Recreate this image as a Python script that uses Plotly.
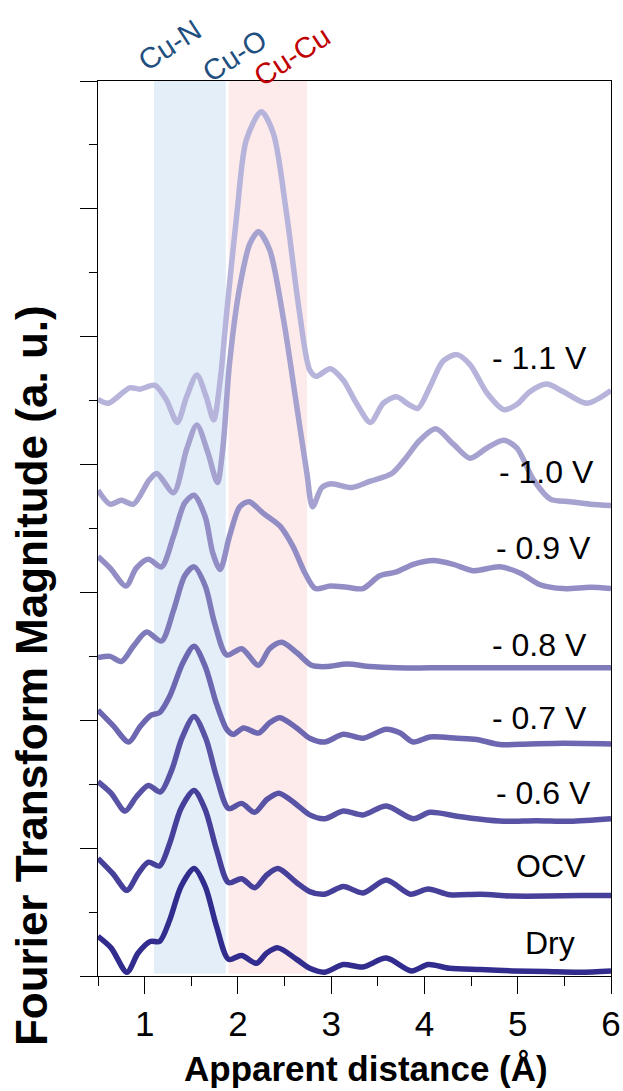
import plotly.graph_objects as go

# Apparent distance R (Å) and FT magnitude (offset, a.u.) for each condition
r_m11 = [0.50, 0.61, 0.84, 0.95, 1.11, 1.23, 1.35, 1.45, 1.56, 1.66, 1.74, 1.81, 1.88, 1.99, 2.09,
         2.25, 2.38, 2.52, 2.66, 2.77, 2.84, 2.99, 3.13, 3.27, 3.42, 3.56, 3.70, 3.83, 3.93, 4.06,
         4.20, 4.35, 4.49, 4.67, 4.85, 4.99, 5.13, 5.31, 5.49, 5.74, 6.00]
ft_m11 = [4.51, 4.48, 4.60, 4.59, 4.62, 4.51, 4.33, 4.53, 4.70, 4.53, 4.35, 4.66, 5.19, 5.97, 6.54,
          6.76, 6.59, 5.97, 5.19, 4.74, 4.69, 4.75, 4.66, 4.48, 4.33, 4.48, 4.53, 4.47, 4.44, 4.61,
          4.81, 4.86, 4.78, 4.56, 4.43, 4.47, 4.57, 4.63, 4.57, 4.48, 4.58]

r_m10 = [0.50, 0.63, 0.75, 0.88, 1.05, 1.13, 1.31, 1.45, 1.56, 1.68, 1.78, 1.84, 1.91, 2.02, 2.13,
         2.22, 2.34, 2.49, 2.63, 2.74, 2.80, 2.90, 3.00, 3.22, 3.42, 3.65, 3.81, 3.95, 4.12, 4.31,
         4.49, 4.67, 4.85, 4.99, 5.17, 5.35, 5.56, 5.78, 6.00]
ft_m10 = [3.80, 3.69, 3.72, 3.69, 3.88, 3.93, 3.78, 4.12, 4.31, 4.09, 3.86, 4.14, 4.79, 5.39, 5.73,
          5.82, 5.68, 5.13, 4.46, 3.93, 3.67, 3.82, 3.85, 3.82, 3.87, 3.93, 4.06, 4.19, 4.28, 4.16,
          4.05, 4.13, 4.19, 4.13, 3.88, 3.73, 3.71, 3.69, 3.68]

r_m09 = [0.50, 0.63, 0.80, 0.91, 1.04, 1.18, 1.31, 1.43, 1.53, 1.65, 1.73, 1.81, 1.91, 2.02, 2.12,
         2.27, 2.45, 2.59, 2.72, 2.83, 2.99, 3.17, 3.34, 3.52, 3.70, 3.88, 4.10, 4.31, 4.52, 4.81,
         5.03, 5.24, 5.49, 5.78, 6.00]
ft_m09 = [3.28, 3.19, 3.05, 3.19, 3.26, 3.20, 3.44, 3.70, 3.76, 3.59, 3.31, 3.18, 3.44, 3.67, 3.71,
          3.62, 3.52, 3.36, 3.15, 3.03, 3.05, 3.04, 3.03, 3.13, 3.16, 3.22, 3.25, 3.22, 3.17, 3.20,
          3.15, 3.06, 3.03, 3.04, 3.03]

r_m08 = [0.50, 0.63, 0.75, 0.88, 1.02, 1.18, 1.31, 1.43, 1.53, 1.65, 1.75, 1.88, 2.04, 2.22, 2.34,
         2.47, 2.63, 2.79, 2.95, 3.17, 3.42, 3.70, 4.06, 4.42, 4.77, 5.13, 5.49, 6.00]
ft_m08 = [2.49, 2.50, 2.46, 2.58, 2.69, 2.62, 2.86, 3.13, 3.20, 3.05, 2.76, 2.51, 2.56, 2.43, 2.56,
          2.61, 2.53, 2.43, 2.42, 2.44, 2.42, 2.41, 2.41, 2.41, 2.41, 2.41, 2.41, 2.41]

r_m07 = [0.50, 0.66, 0.83, 0.95, 1.07, 1.16, 1.27, 1.41, 1.53, 1.65, 1.77, 1.88, 1.95, 2.06, 2.22,
         2.34, 2.45, 2.63, 2.77, 2.93, 3.13, 3.34, 3.59, 3.74, 3.88, 4.06, 4.35, 4.56, 4.81, 5.13,
         5.49, 6.00]
ft_m07 = [2.08, 1.96, 1.83, 1.95, 2.04, 2.06, 2.19, 2.45, 2.58, 2.42, 2.13, 1.93, 1.89, 1.94, 1.90,
          1.98, 2.02, 1.94, 1.86, 1.83, 1.89, 1.86, 1.93, 1.90, 1.83, 1.87, 1.86, 1.85, 1.81, 1.815,
          1.82, 1.815]

r_m06 = [0.50, 0.64, 0.79, 0.91, 1.04, 1.17, 1.29, 1.40, 1.53, 1.66, 1.77, 1.90, 2.04, 2.18, 2.31,
         2.44, 2.63, 2.77, 2.93, 3.13, 3.34, 3.59, 3.88, 4.06, 4.35, 4.56, 4.85, 5.20, 5.56, 6.00]
ft_m06 = [1.52, 1.43, 1.29, 1.40, 1.49, 1.44, 1.61, 1.86, 2.03, 1.85, 1.56, 1.31, 1.35, 1.28, 1.38,
          1.43, 1.34, 1.26, 1.23, 1.29, 1.26, 1.33, 1.23, 1.28, 1.25, 1.23, 1.21, 1.215, 1.21, 1.23]

r_ocv = [0.50, 0.66, 0.81, 0.93, 1.04, 1.16, 1.27, 1.39, 1.53, 1.65, 1.77, 1.90, 2.04, 2.18, 2.31,
         2.43, 2.63, 2.77, 2.93, 3.13, 3.34, 3.59, 3.85, 4.04, 4.27, 4.60, 4.95, 5.31, 5.67, 6.00]
ft_ocv = [0.92, 0.80, 0.67, 0.80, 0.89, 0.86, 1.04, 1.31, 1.45, 1.30, 0.99, 0.73, 0.76, 0.69, 0.79,
          0.84, 0.73, 0.66, 0.64, 0.70, 0.65, 0.75, 0.64, 0.68, 0.635, 0.64, 0.625, 0.625, 0.63, 0.63]

r_dry = [0.50, 0.64, 0.81, 0.93, 1.06, 1.16, 1.27, 1.39, 1.53, 1.65, 1.77, 1.90, 2.04, 2.20, 2.31,
         2.43, 2.63, 2.77, 2.93, 3.13, 3.34, 3.59, 3.86, 4.04, 4.27, 4.60, 4.95, 5.31, 5.67, 6.00]
ft_dry = [0.31, 0.22, 0.03, 0.18, 0.27, 0.27, 0.44, 0.70, 0.84, 0.70, 0.39, 0.13, 0.16, 0.10, 0.18,
          0.22, 0.13, 0.06, 0.03, 0.09, 0.07, 0.14, 0.04, 0.09, 0.06, 0.05, 0.04, 0.035, 0.03, 0.04]

labels = ["- 1.1 V", "- 1.0 V", "- 0.9 V", "- 0.8 V", "- 0.7 V", "- 0.6 V", "OCV", "Dry"]
label_x = [5.23, 5.31, 5.28, 5.23, 5.23, 5.28, 5.36, 5.35]
label_y = [4.83, 3.94, 3.35, 2.59, 2.02, 1.43, 0.86, 0.26]

# Shaded scattering-path windows (Å)
shell_names = ["Cu-N", "Cu-O", "Cu-Cu"]
cuno_window = [1.10, 1.87]
cucu_window = [1.90, 2.74]

series_r = [r_m11, r_m10, r_m09, r_m08, r_m07, r_m06, r_ocv, r_dry]
series_ft = [ft_m11, ft_m10, ft_m09, ft_m08, ft_m07, ft_m06, ft_ocv, ft_dry]
colors = ["#b6b4da", "#a5a2d0", "#928ec5", "#7f7bba", "#6c67b0", "#5953a5", "#46409b", "#312c8e"]

FONT = "Arial, Liberation Sans, sans-serif"

fig = go.Figure()
for r, ft, c, name in zip(series_r, series_ft, colors, labels):
    fig.add_trace(go.Scatter(
        x=r, y=ft, mode="lines", name=name,
        line=dict(color=c, width=5.5, shape="spline", smoothing=0.8),
        showlegend=False, hoverinfo="skip",
    ))

shapes = [
    dict(type="rect", xref="x", yref="y", x0=cuno_window[0], x1=cuno_window[1], y0=0.02, y1=7,
         fillcolor="#e3eef9", line=dict(width=0), layer="below"),
    dict(type="rect", xref="x", yref="y", x0=cucu_window[0], x1=cucu_window[1], y0=0.02, y1=7,
         fillcolor="#fdeaeb", line=dict(width=0), layer="below"),
]

annotations = []
for t, x, y in zip(labels, label_x, label_y):
    annotations.append(dict(text=t, x=x, y=y, xref="x", yref="y", showarrow=False,
                            xanchor="center", yanchor="middle",
                            font=dict(family=FONT, size=32, color="black")))

# Shell labels above the frame
shell_x = [1.27, 1.96, 2.58]
shell_y = [1.040, 1.028, 1.028]
shell_colors = ["#1f4f7f", "#1f4f7f", "#c00000"]
for t, x, y, c in zip(shell_names, shell_x, shell_y, shell_colors):
    annotations.append(dict(text=t, x=x, y=y, xref="x", yref="paper", showarrow=False,
                            xanchor="center", yanchor="middle", textangle=-33,
                            font=dict(family=FONT, size=29, color=c)))

# Axis titles
annotations.append(dict(text="<b>Apparent distance (Å)</b>", x=3.37, y=-0.1035, xref="x", yref="paper",
                        showarrow=False, xanchor="center", yanchor="middle",
                        font=dict(family=FONT, size=35, color="black")))
annotations.append(dict(text="<b>Fourier Transform Magnitude (a. u.)</b>", x=-0.131, y=0.336,
                        xref="paper", yref="paper", showarrow=False, textangle=-90,
                        xanchor="center", yanchor="middle",
                        font=dict(family=FONT, size=44, color="black")))

fig.update_layout(
    width=623, height=1091,
    margin=dict(l=98, r=12, t=81, b=115, autoexpand=False),
    paper_bgcolor="white", plot_bgcolor="rgba(0,0,0,0)",
    shapes=shapes, annotations=annotations,
    font=dict(family=FONT, color="black"),
)
fig.update_xaxes(
    range=[0.5, 6], tickmode="linear", tick0=0, dtick=1, automargin=False,
    ticks="outside", ticklen=17, tickwidth=1.3, tickcolor="black",
    minor=dict(dtick=0.5, tick0=0.5, ticks="outside", ticklen=9, tickwidth=1.3, tickcolor="black"),
    showline=True, linecolor="black", linewidth=1.3, mirror=True,
    showgrid=False, zeroline=False,
    tickfont=dict(family=FONT, size=35, color="black"),
)
fig.update_yaxes(
    range=[0, 7], tickmode="linear", tick0=0, dtick=1, automargin=False,
    ticks="outside", ticklen=17, tickwidth=1.3, tickcolor="black",
    minor=dict(dtick=0.5, tick0=0.5, ticks="outside", ticklen=8, tickwidth=1.3, tickcolor="black"),
    showline=True, linecolor="black", linewidth=1.3, mirror=True,
    showgrid=False, zeroline=False, showticklabels=False,
)

fig.write_html("out.html")
